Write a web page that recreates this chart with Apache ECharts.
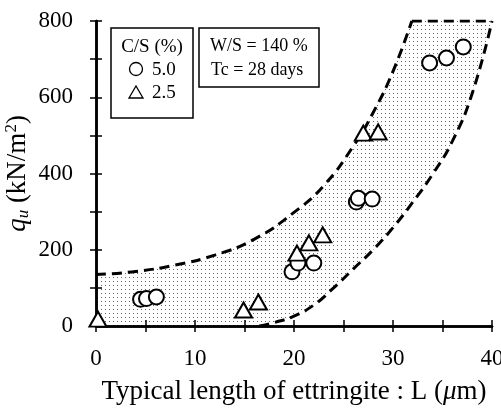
<!DOCTYPE html>
<html lang="en">
  <head>
    <meta charset="UTF-8" />
    <title>qu vs ettringite length</title>
    <script src="https://cdn.jsdelivr.net/npm/echarts@6.0.0/dist/echarts.min.js"></script>
    <style>
      body { margin: 0; background: #fff; }
    </style>
  </head>
  <body>
    <div id="main" style="width: 501px; height: 408px"></div>
    <script type="text/javascript">
      // data
      const circleL = [4.5, 5.1, 6.1, 19.8, 20.4, 22.0, 26.3, 26.5, 27.9, 33.7, 35.4, 37.1];
      const circleQ = [70, 72, 76, 142, 165, 165, 325, 335, 333, 690, 703, 732];
      const triL = [0.2, 14.9, 16.4, 20.3, 21.5, 22.9, 27.0, 28.5];
      const triQ = [18, 42, 63, 191, 218, 239, 506, 509];

      // dashed envelope curves
      const upperL = [0, 4, 8, 12, 16, 20, 23, 26, 28, 30, 31.9];
      const upperQ = [135, 143, 160, 186, 228, 298, 368, 472, 560, 668, 800];
      const topL = [31.9, 40];
      const topQ = [800, 800];
      const lowerL = [16.5, 18, 20, 22, 24, 26, 28, 30, 32, 34, 36, 38, 40];
      const lowerQ = [0, 9, 26, 55, 100, 150, 200, 258, 325, 398, 485, 610, 800];

      const xTicks = [0, 10, 20, 30, 40];
      const yTicks = [0, 200, 400, 600, 800];

      const zip = (a, b) => a.map((v, i) => [v, b[i]]);

      // dotted fill
      const pat = document.createElement("canvas");
      pat.width = 4;
      pat.height = 4;
      const pc = pat.getContext("2d");
      pc.fillStyle = "#666";
      pc.fillRect(1, 1, 1, 1);
      const dots = { image: pat, repeat: "repeat" };

      let myChart = echarts.init(document.getElementById("main"));

      const font = "Liberation Serif";
      const dash = { color: "#000", width: 3, type: [10, 6] };
      const axisCommon = {
        type: "value",
        axisLine: { lineStyle: { color: "#000", width: 2.5 } },
        axisTick: { inside: true, length: 6, lineStyle: { color: "#000", width: 1.5 } },
        splitLine: { show: false },
        z: 5,
      };

      let options = {
        animation: false,
        textStyle: { fontFamily: font },
        grid: { left: 96, right: 9, top: 21, bottom: 82, containLabel: false, outerBoundsMode: "none" },
        xAxis: [
          Object.assign({}, axisCommon, {
            min: 0,
            max: 40,
            interval: 5,
            position: "bottom",
            axisLabel: {
              color: "#000",
              fontSize: 23,
              fontFamily: font,
              margin: 21,
              formatter: (v) => (xTicks.includes(v) ? String(v) : ""),
            },
            name: "Typical length of ettringite : L ({i|μ}m)",
            nameLocation: "middle",
            nameGap: 52,
            nameMoveOverlap: false,
            nameTextStyle: {
              color: "#000",
              fontSize: 27,
              fontFamily: font,
              rich: { i: { fontSize: 27, fontStyle: "italic", fontFamily: font } },
            },
          }),
          Object.assign({}, axisCommon, {
            min: 0,
            max: 40,
            interval: 5,
            position: "top",
            axisLabel: { show: false },
          }),
        ],
        yAxis: [
          Object.assign({}, axisCommon, {
            min: 0,
            max: 800,
            interval: 100,
            position: "left",
            axisLabel: {
              color: "#000",
              fontSize: 23,
              fontFamily: font,
              margin: 23,
              formatter: (v) => (yTicks.includes(v) ? String(v) : ""),
            },
            name: "{q|q}{sub|u} (kN/m{sup|2})",
            nameLocation: "middle",
            nameGap: 64,
            nameMoveOverlap: false,
            nameTextStyle: {
              color: "#000",
              fontSize: 27,
              fontFamily: font,
              rich: {
                q: { fontSize: 27, fontStyle: "italic", fontFamily: font },
                sub: { fontSize: 17, fontStyle: "italic", fontFamily: font, padding: [12, 0, 0, 0] },
                sup: { fontSize: 17, fontFamily: font, padding: [0, 0, 12, 0] },
              },
            },
          }),
          Object.assign({}, axisCommon, {
            min: 0,
            max: 800,
            interval: 100,
            position: "right",
            axisLabel: { show: false },
          }),
        ],
        series: [
          {
            type: "line",
            data: zip(upperL, upperQ),
            smooth: 0.5,
            symbol: "none",
            lineStyle: dash,
            areaStyle: { color: dots, opacity: 1 },
            z: 1,
          },
          {
            type: "line",
            data: zip(topL, topQ),
            symbol: "none",
            lineStyle: dash,
            areaStyle: { color: dots, opacity: 1 },
            z: 1,
          },
          {
            type: "line",
            data: zip(lowerL, lowerQ),
            smooth: 0.5,
            symbol: "none",
            lineStyle: dash,
            areaStyle: { color: "#fff", opacity: 1 },
            z: 2,
          },
          {
            type: "scatter",
            data: zip(circleL, circleQ),
            symbol: "circle",
            symbolSize: 15,
            clip: false,
            itemStyle: { color: "#fff", borderColor: "#000", borderWidth: 2, opacity: 1 },
            z: 10,
          },
          {
            type: "scatter",
            data: zip(triL, triQ),
            symbol: "triangle",
            symbolSize: [17, 15],
            clip: false,
            itemStyle: { color: "#fff", borderColor: "#000", borderWidth: 2, opacity: 1 },
            z: 10,
          },
        ],
        graphic: [
          // C/S box
          {
            type: "rect",
            z: 20,
            shape: { x: 111, y: 28, width: 82, height: 90 },
            style: { fill: "#fff", stroke: "#000", lineWidth: 1.5 },
          },
          {
            type: "text",
            z: 21,
            x: 152,
            y: 47,
            style: { text: "C/S (%)", font: "19px " + font, fill: "#000", align: "center", verticalAlign: "middle" },
          },
          {
            type: "circle",
            z: 21,
            shape: { cx: 136, cy: 69, r: 6.5 },
            style: { fill: "#fff", stroke: "#000", lineWidth: 1.3 },
          },
          {
            type: "text",
            z: 21,
            x: 152,
            y: 70,
            style: { text: "5.0", font: "19px " + font, fill: "#000", align: "left", verticalAlign: "middle" },
          },
          {
            type: "polygon",
            z: 21,
            shape: { points: [[129, 98], [143, 98], [136, 86]] },
            style: { fill: "#fff", stroke: "#000", lineWidth: 1.3 },
          },
          {
            type: "text",
            z: 21,
            x: 152,
            y: 93,
            style: { text: "2.5", font: "19px " + font, fill: "#000", align: "left", verticalAlign: "middle" },
          },
          // W/S box
          {
            type: "rect",
            z: 20,
            shape: { x: 199, y: 28, width: 120, height: 59 },
            style: { fill: "#fff", stroke: "#000", lineWidth: 1.5 },
          },
          {
            type: "text",
            z: 21,
            x: 210,
            y: 46,
            style: { text: "W/S = 140 %", font: "18px " + font, fill: "#000", align: "left", verticalAlign: "middle" },
          },
          {
            type: "text",
            z: 21,
            x: 211,
            y: 70,
            style: { text: "Tc = 28 days", font: "18px " + font, fill: "#000", align: "left", verticalAlign: "middle" },
          },
        ],
      };

      myChart.setOption(options);
    </script>
  </body>
</html>
